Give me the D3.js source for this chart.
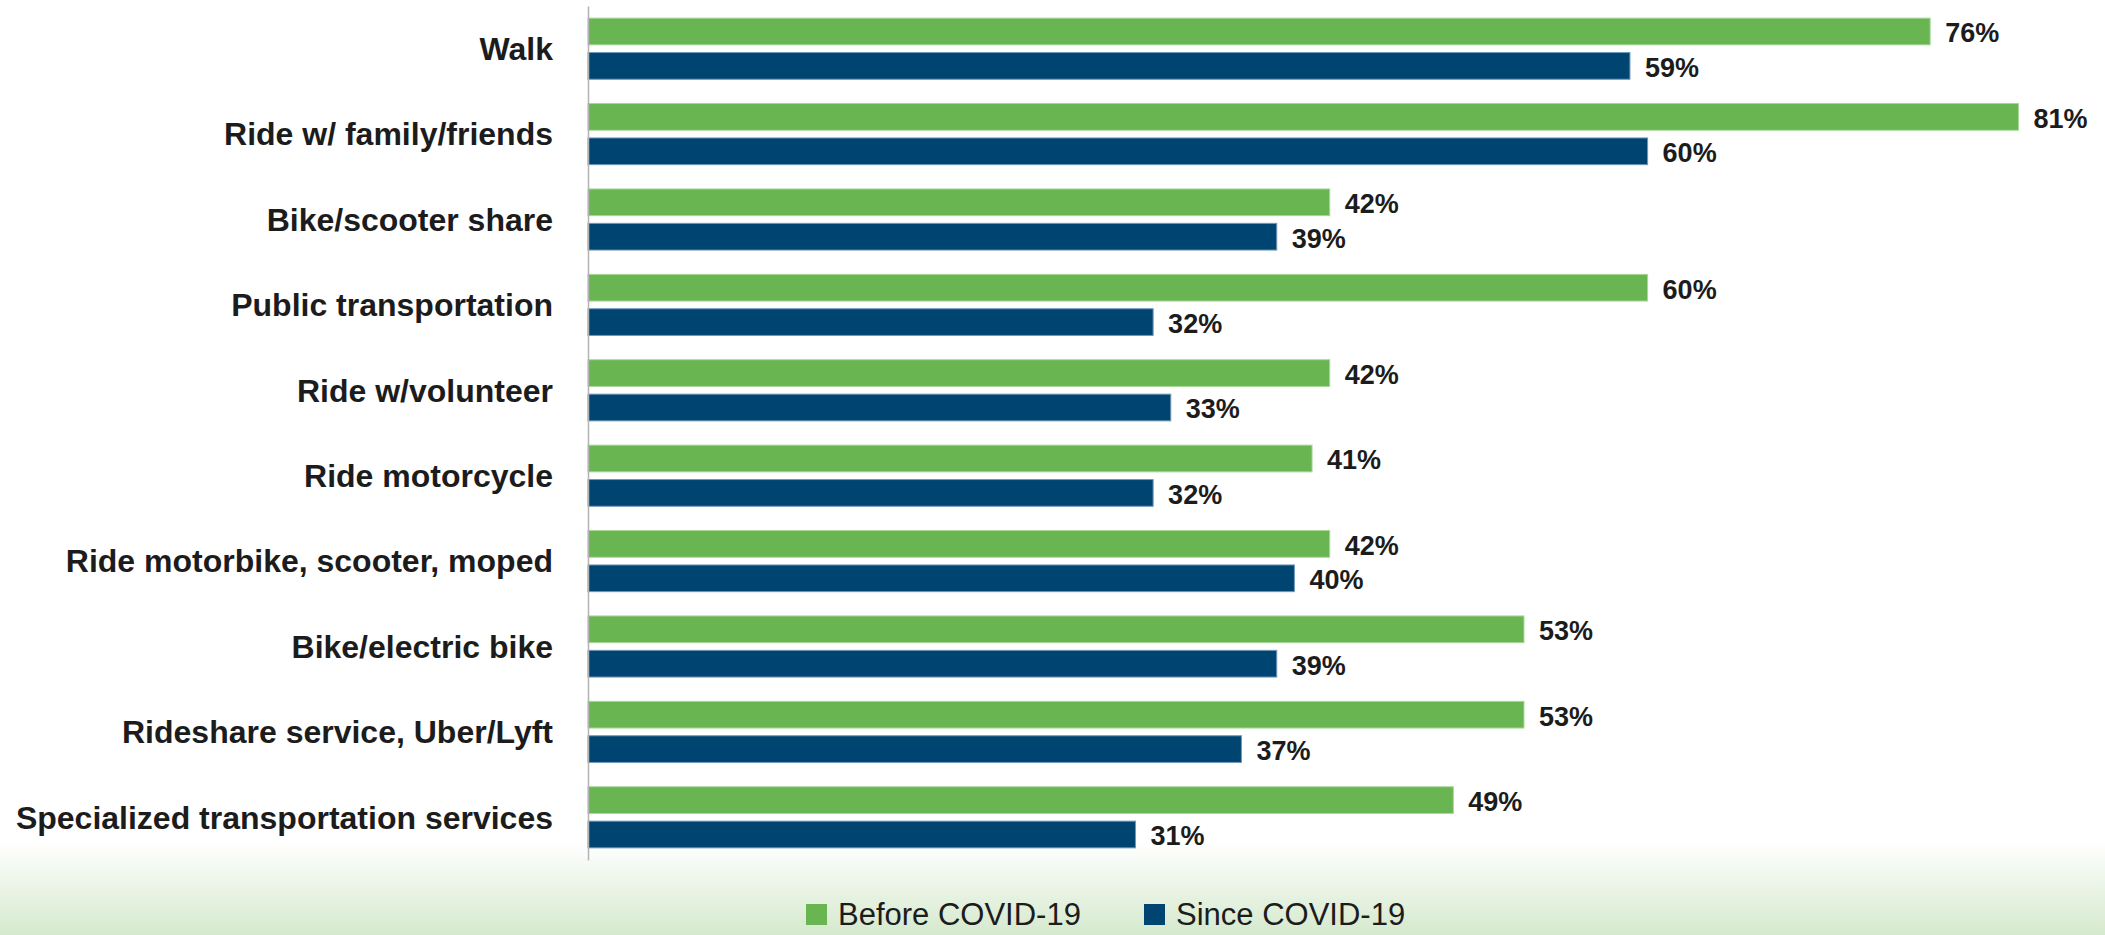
<!DOCTYPE html>
<html>
<head>
<meta charset="utf-8">
<script src="https://cdn.jsdelivr.net/npm/d3@7"></script>
<style>
  html, body { margin: 0; padding: 0; background: #fff; }
  svg { display: block; }
</style>
</head>
<body>
<div id="chart"></div>
<script>
const categories = [
  'Walk',
  'Ride w/ family/friends',
  'Bike/scooter share',
  'Public transportation',
  'Ride w/volunteer',
  'Ride motorcycle',
  'Ride motorbike, scooter, moped',
  'Bike/electric bike',
  'Rideshare service, Uber/Lyft',
  'Specialized transportation services'
];
const beforeCovid = [76, 81, 42, 60, 42, 41, 42, 53, 53, 49];
const sinceCovid = [59, 60, 39, 32, 33, 32, 40, 39, 37, 31];
const seriesNames = ['Before COVID-19', 'Since COVID-19'];
const seriesColors = ['#69b552', '#004572'];
const seriesEdges = ['#a9d79a', '#6f97b8'];

const width = 2105;
const height = 935;
const axisX = 588;
const plotTop = 6;
const plotBottom = 860;

const data = categories.map((name, i) => ({
  name,
  values: [beforeCovid[i], sinceCovid[i]]
}));

const svg = d3.select('#chart')
  .append('svg')
  .attr('width', width)
  .attr('height', height);

/* background fade at the bottom */
const defs = svg.append('defs');
const grad = defs.append('linearGradient')
  .attr('id', 'bg')
  .attr('x1', 0).attr('y1', 0).attr('x2', 0).attr('y2', 1);
grad.append('stop').attr('offset', '0%').attr('stop-color', '#ffffff');
grad.append('stop').attr('offset', '100%').attr('stop-color', '#d5e9cd');
svg.append('rect')
  .attr('x', 0).attr('y', 842)
  .attr('width', width).attr('height', height - 842)
  .attr('fill', 'url(#bg)');

/* Scale */
const xScale = d3.scaleLinear()
  .domain([0, 100])
  .range([axisX, axisX + 1766]);

const yScale = d3.scaleBand()
  .domain(categories)
  .range([plotTop, plotBottom])
  .padding(0);

const ySub = d3.scaleBand()
  .domain([0, 1])
  .range([0, yScale.bandwidth()])
  .paddingInner(0.224)
  .paddingOuter(0.353);

/* bars */
const groups = svg.append('g')
  .selectAll('.cat')
  .data(data)
  .enter()
  .append('g')
  .attr('class', 'cat')
  .attr('transform', (d) => `translate(0, ${yScale(d.name)})`);

groups.selectAll('rect')
  .data((d) => d.values)
  .enter()
  .append('rect')
  .attr('x', xScale(0))
  .attr('y', (d, i) => ySub(i))
  .attr('width', (d) => xScale(d) - xScale(0))
  .attr('height', ySub.bandwidth())
  .attr('fill', (d, i) => seriesColors[i])
  .attr('stroke', (d, i) => seriesEdges[i])
  .attr('stroke-width', 1);

groups.selectAll('.val')
  .data((d) => d.values)
  .enter()
  .append('text')
  .attr('class', 'val')
  .attr('x', (d) => xScale(d) + 15)
  .attr('y', (d, i) => ySub(i) + ySub.bandwidth() / 2 + 11)
  .attr('font-family', '"Liberation Sans", Arial, sans-serif')
  .attr('font-weight', 'bold')
  .attr('font-size', '27px')
  .attr('fill', '#1c1c1c')
  .text((d) => d + '%');

/* category axis */
const yAxis = d3.axisLeft(yScale).tickSize(0).tickPadding(35);
const axisG = svg.append('g')
  .attr('transform', `translate(${axisX}, 0)`)
  .call(yAxis);
axisG.select('.domain')
  .attr('stroke', '#b3b3b3')
  .attr('stroke-width', 1.5);
axisG.selectAll('text')
  .attr('font-family', '"Liberation Sans", Arial, sans-serif')
  .attr('font-weight', 'bold')
  .attr('font-size', '32px')
  .attr('fill', '#1c1c1c')
  .attr('dy', '0.35em');

/* legend */
const legendX = [806, 1144];
const legend = svg.append('g')
  .selectAll('.legend')
  .data(seriesNames)
  .enter()
  .append('g')
  .attr('class', 'legend')
  .attr('transform', (d, i) => `translate(${legendX[i]}, 904)`);

legend.append('rect')
  .attr('width', 21)
  .attr('height', 21)
  .attr('fill', (d, i) => seriesColors[i]);

legend.append('text')
  .attr('x', 32)
  .attr('y', 21)
  .attr('font-family', '"Liberation Sans", Arial, sans-serif')
  .attr('font-size', '31px')
  .attr('fill', '#1c1c1c')
  .text((d) => d);
</script>
</body>
</html>
